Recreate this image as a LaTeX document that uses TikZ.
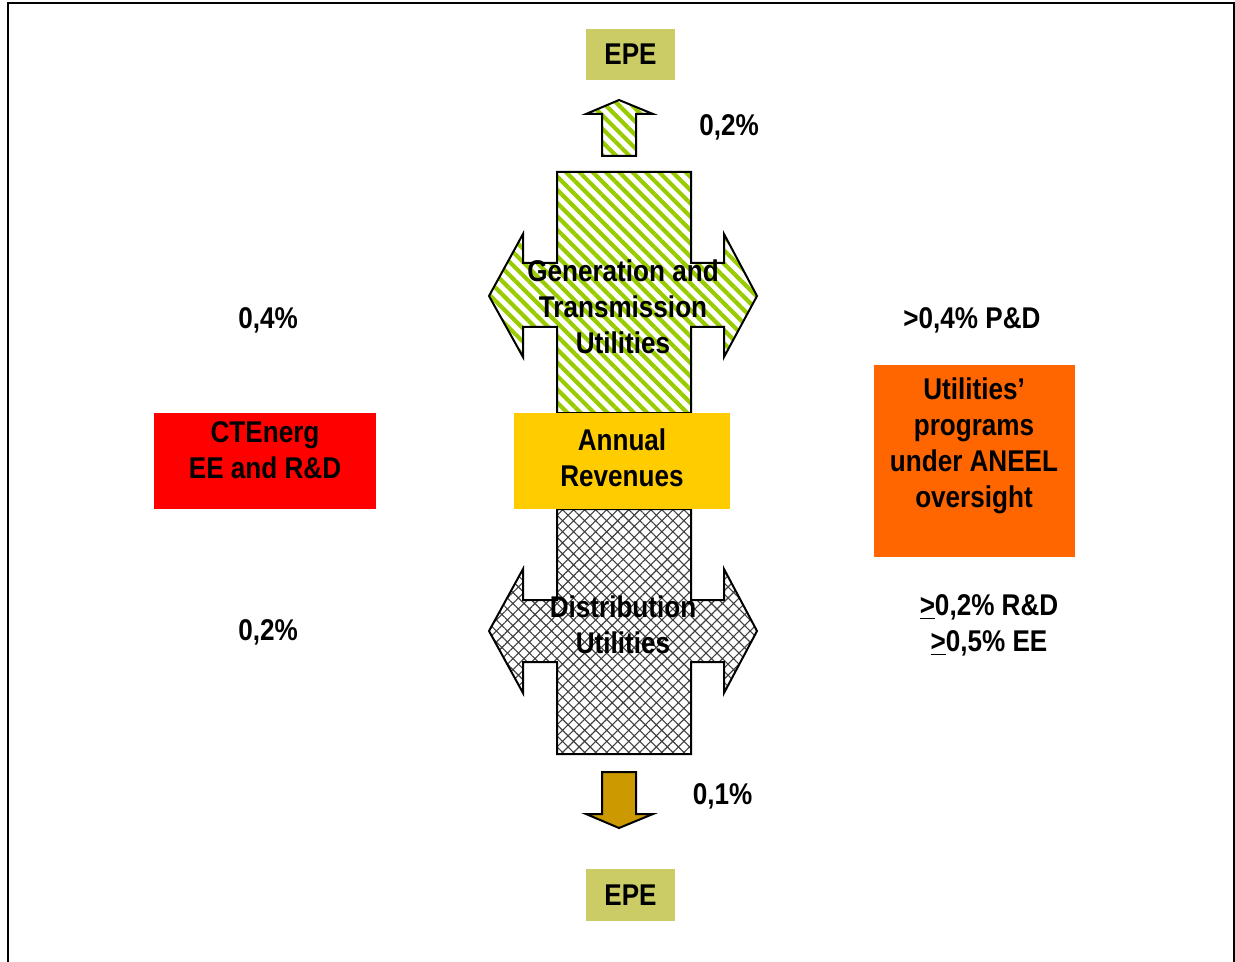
\documentclass[tikz,border=0pt]{standalone}
\usepackage{fontspec}
\setmainfont[FakeStretch=0.87]{Liberation Sans}
\usepackage{tikz}
\usetikzlibrary{patterns.meta}

\definecolor{epeolive}{RGB}{204,204,102}
\definecolor{gtgreen}{RGB}{153,204,0}
\definecolor{revyellow}{RGB}{255,204,0}
\definecolor{ctred}{RGB}{255,0,0}
\definecolor{utilorange}{RGB}{255,102,0}
\definecolor{downgold}{RGB}{204,153,0}

\tikzset{
  lbl/.style={font=\bfseries\fontsize{15}{18}\selectfont, align=center, inner sep=0pt},
  box/.style={inner sep=0pt, outer sep=0pt},
  gtstripes/.style={pattern={Lines[angle=-45,distance=4.7pt,line width=2.1pt]}, pattern color=gtgreen},
  dumesh/.style={pattern={Hatch[angle=45,distance=3.9pt,line width=0.55pt]}, pattern color=black!75},
  outline/.style={draw=black, line width=1pt, line join=miter},
}

\begin{document}
\begin{tikzpicture}[x=0.5pt,y=0.5pt,yscale=-1,xscale=1]
\useasboundingbox (0,0) rectangle (1235,962);

%Frame
\draw [line width=0.8pt] (8,962) -- (8,3) -- (1234,3) -- (1234,962) ;

%Shape: Up Arrow
\path [fill=white] (602,156) -- (602,114) -- (586,114) -- (619,100) -- (653,114) -- (636,114) -- (636,156) -- cycle ;
\path [gtstripes] (602,156) -- (602,114) -- (586,114) -- (619,100) -- (653,114) -- (636,114) -- (636,156) -- cycle ;
\draw [outline] (602,156) -- (602,114) -- (586,114) -- (619,100) -- (653,114) -- (636,114) -- (636,156) -- cycle ;

%Shape: Cross (generation and transmission)
\path [gtstripes] (557,172) -- (691,172) -- (691,263) -- (724,263) -- (724,234) -- (757,296) -- (724,357) -- (724,327) -- (691,327) -- (691,413) -- (557,413) -- (557,327) -- (523,327) -- (523,357) -- (489,296) -- (523,234) -- (523,263) -- (557,263) -- cycle ;
\draw [outline] (557,172) -- (691,172) -- (691,263) -- (724,263) -- (724,234) -- (757,296) -- (724,357) -- (724,327) -- (691,327) -- (691,413) -- (557,413) -- (557,327) -- (523,327) -- (523,357) -- (489,296) -- (523,234) -- (523,263) -- (557,263) -- cycle ;

%Shape: Cross (distribution)
\path [dumesh] (557,509) -- (691,509) -- (691,600) -- (724,600) -- (724,569) -- (757,631) -- (724,693) -- (724,662) -- (691,662) -- (691,754) -- (557,754) -- (557,662) -- (523,662) -- (523,693) -- (489,631) -- (523,569) -- (523,600) -- (557,600) -- cycle ;
\draw [outline] (557,509) -- (691,509) -- (691,600) -- (724,600) -- (724,569) -- (757,631) -- (724,693) -- (724,662) -- (691,662) -- (691,754) -- (557,754) -- (557,662) -- (523,662) -- (523,693) -- (489,631) -- (523,569) -- (523,600) -- (557,600) -- cycle ;

%Shape: Down Arrow
\draw [outline, fill=downgold] (602,772) -- (636,772) -- (636,814) -- (653,814) -- (619,828) -- (586,814) -- (602,814) -- cycle ;

%Shape: Rectangles
\node [box, fill=epeolive, minimum width=44.5pt, minimum height=25.5pt] (epetop) at (630.5,54.5) {};
\node [box, fill=epeolive, minimum width=44.5pt, minimum height=26pt] (epebot) at (630.5,895) {};
\node [box, fill=revyellow, minimum width=108pt, minimum height=48pt] (revenues) at (622,461) {};
\node [box, fill=ctred, minimum width=111pt, minimum height=48pt] (ctenerg) at (265,461) {};
\node [box, fill=utilorange, minimum width=100.5pt, minimum height=96pt] (utilprog) at (974.5,461) {};

% Text Node
\node [lbl] (epetoptxt) at (epetop) {EPE};
% Text Node
\node [lbl] (epebottxt) at (epebot) {EPE};
% Text Node
\node [lbl] (revtxt) at (622,458) {Annual\\Revenues};
% Text Node
\node [lbl] (cttxt) at (265,450) {CTEnerg\\EE and R\&D};
% Text Node
\node [lbl] (utiltxt) at (974,446) {Utilities'\\programs\\under ANEEL\\oversight};
% Text Node
\node [lbl] (gttxt) at (623,307) {Generation and\\Transmission\\Utilities};
% Text Node
\node [lbl] (dutxt) at (623,625) {Distribution\\Utilities};
% Text Node
\node [lbl] (pcttop) at (729,127) {0,2\%};
% Text Node
\node [lbl] (pctbot) at (722.5,796) {0,1\%};
% Text Node
\node [lbl] (pctleftup) at (268,320) {0,4\%};
% Text Node
\node [lbl] (pctleftdown) at (268,632) {0,2\%};
% Text Node
\node [lbl] (pctrightup) at (972,320) {>0,4\% P\&D};
% Text Node
\node [lbl] (pctrightdown) at (989,625) {\underline{>}0,2\% R\&D\\\underline{>}0,5\% EE};
\end{tikzpicture}
\end{document}
